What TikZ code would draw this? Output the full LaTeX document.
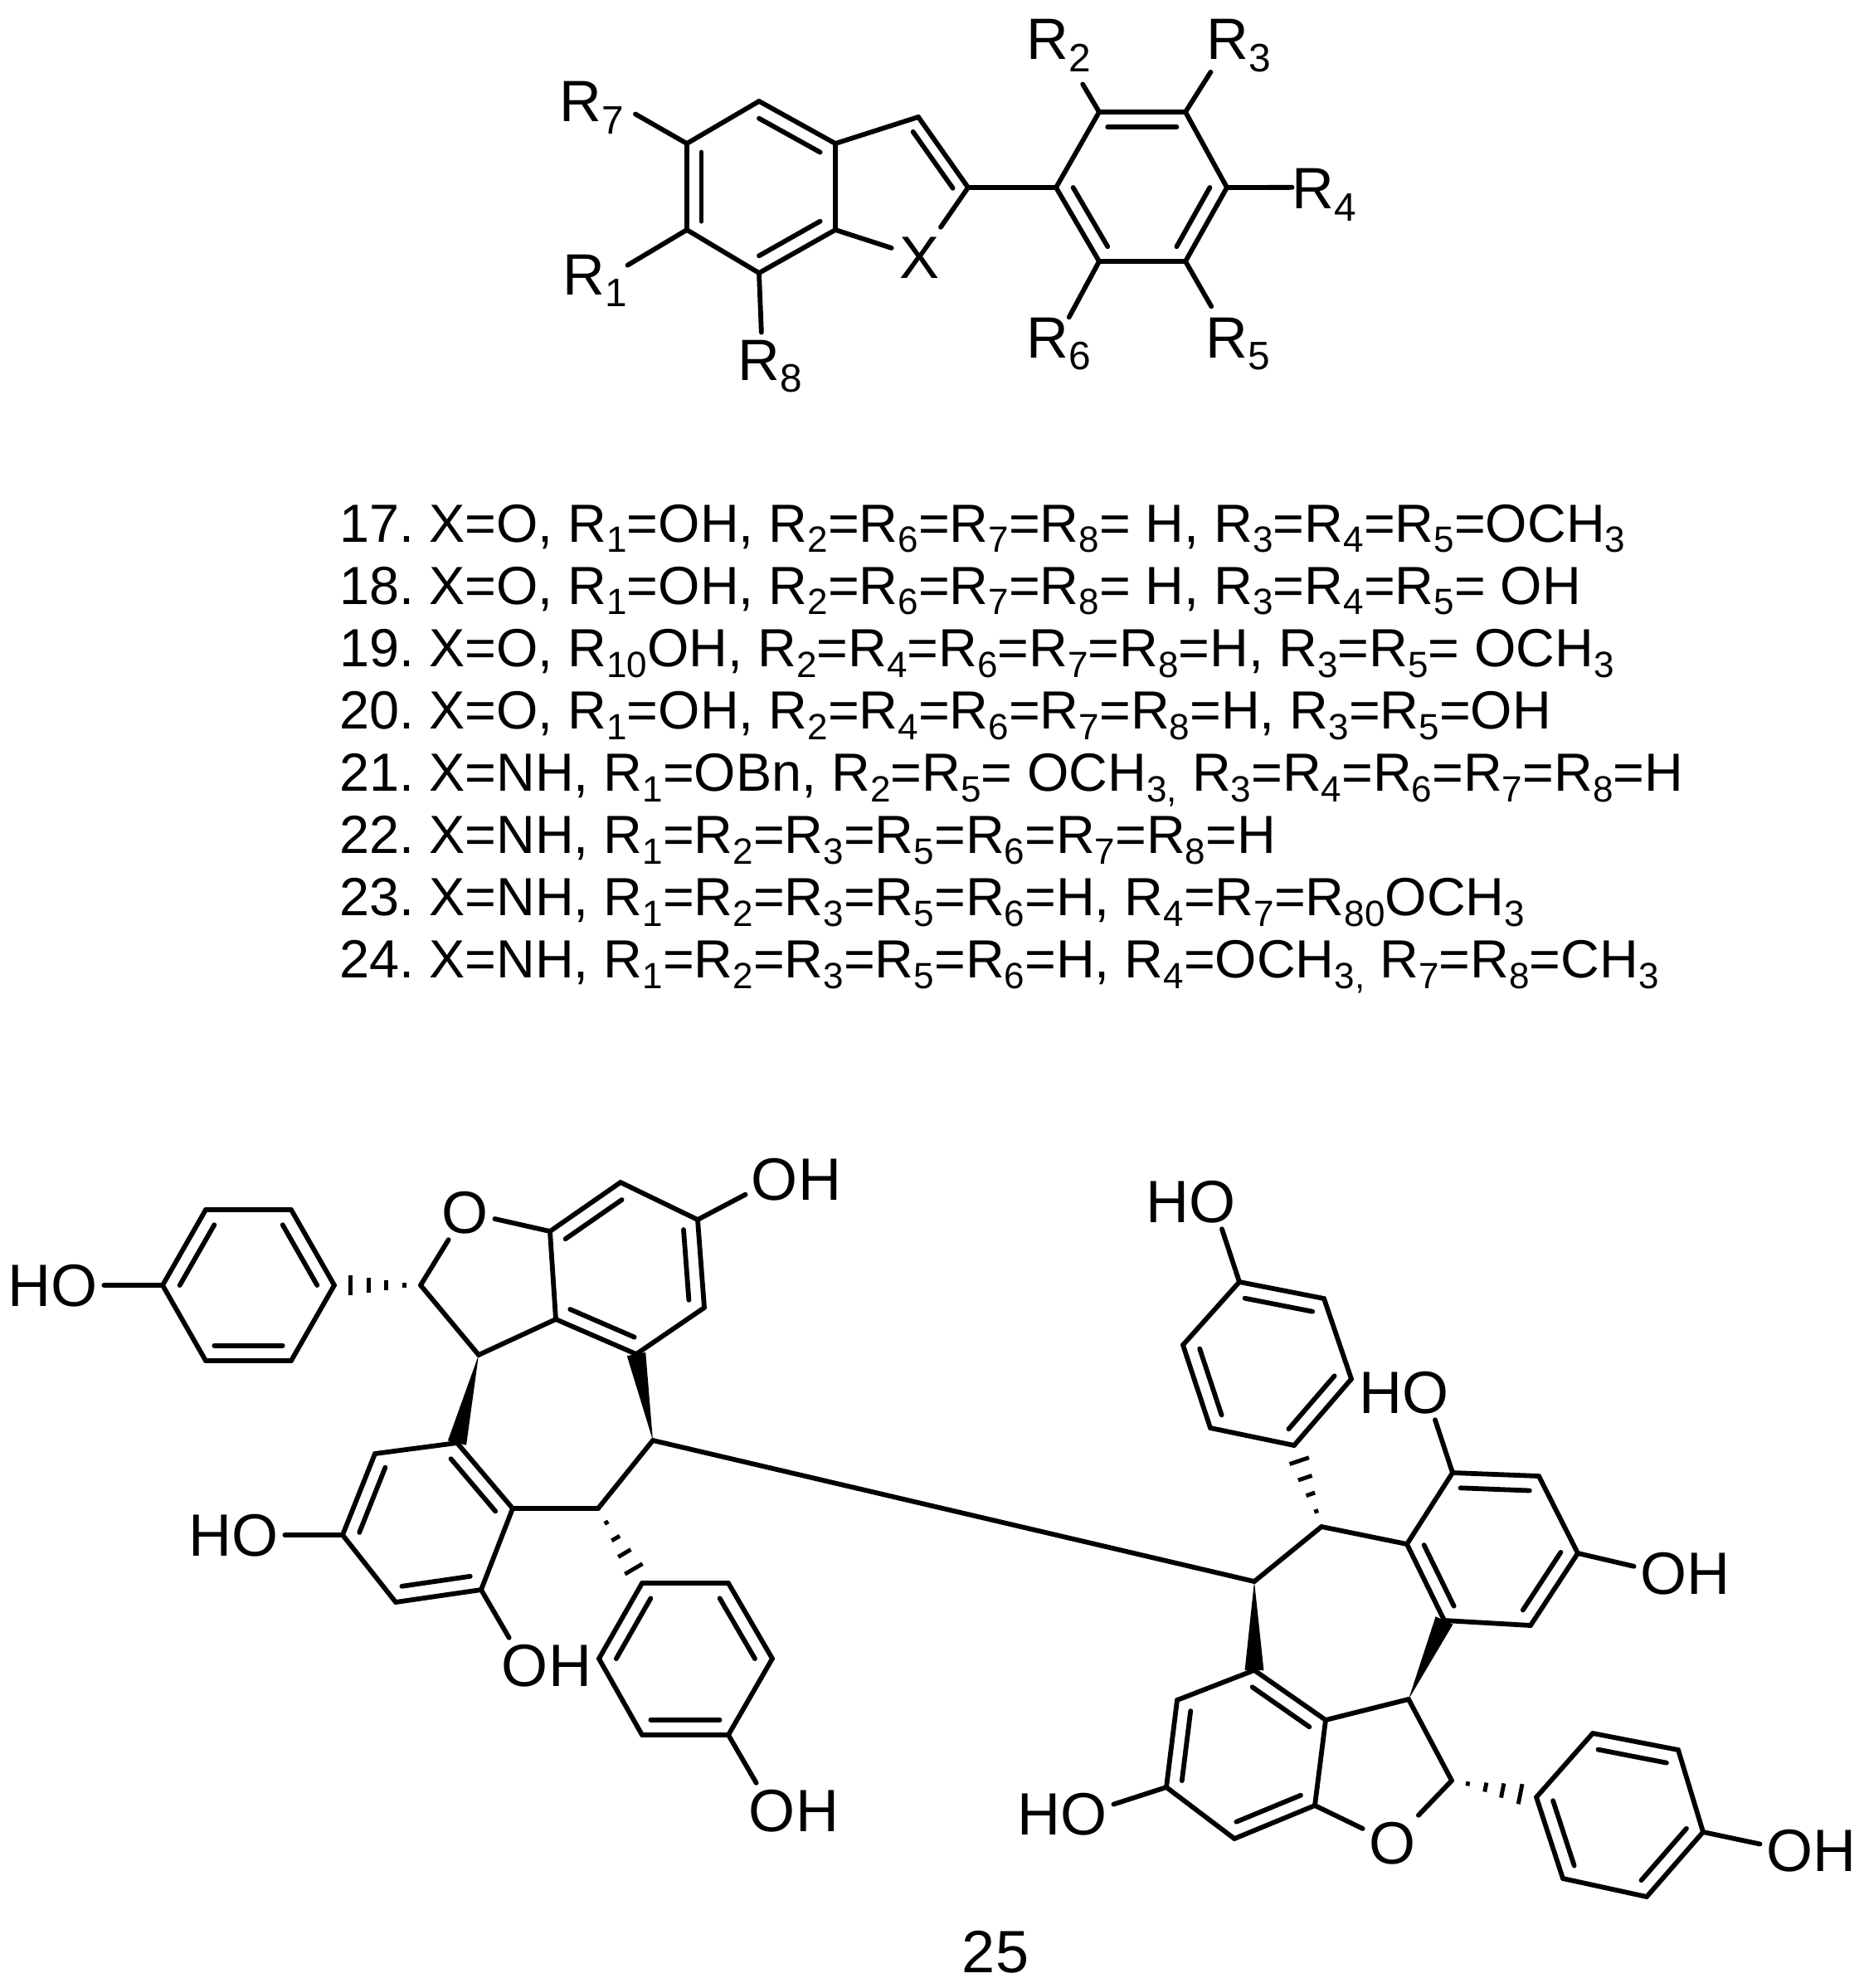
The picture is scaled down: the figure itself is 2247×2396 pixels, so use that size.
\documentclass[tikz,border=0pt]{standalone}
\usepackage{fontspec,graphicx}
\setmainfont{Liberation Sans}
\usetikzlibrary{calc,positioning}

\newcommand{\lowr}[1]{\raisebox{-.2em}{\scalebox{.68}{#1}}}
\newcommand{\dbond}[3]{\draw[bond] (#1) -- (#2); \draw[bond] ($(#1)!.2!(#3)$) -- ($(#2)!.2!(#3)$);}
\newcommand{\wbond}[2]{\fill ($(#1)$) -- ($(#2)!6.5pt!90:(#1)$) -- ($(#2)!6.5pt!-90:(#1)$) -- cycle;}
\newcommand{\hbond}[2]{\foreach \t/\h in {.19/1.5pt,.40/3.2pt,.60/5pt,.81/7pt} \draw[hash] ($(#1)!\t!(#2)!\h!90:(#2)$) -- ($(#1)!\t!(#2)!\h!-90:(#2)$);}

\tikzset{
  bond/.style={line width=3.3pt, line cap=round, line join=round},
  hash/.style={line width=2.8pt},
  atom/.style={font=\fontsize{41}{41}\selectfont, inner sep=4pt, text height=29.4pt, text depth=0pt},
  rgroup/.style={font=\fontsize{40}{40}\selectfont, inner sep=0pt, anchor=base west},
  rowtxt/.style={font=\fontsize{36.85}{37}\selectfont, inner sep=0pt, text height=26.5pt, text depth=11pt},
}

\begin{document}
\frenchspacing
\begin{tikzpicture}[x=.02cm, y=-.02cm]
  \useasboundingbox (0,0) rectangle (2247,2396);

  % upper skeleton
  \foreach \n/\x/\y in {b1/915/122, b2/1007/173, b3/1007/277, b4/915/329, b5/828/277, b6/828/173,
    c3/1107/141, c2/1167/226, ringc/1075/230,
    p1/1273/226, p2/1325/135, p3/1429/135, p4/1479/226, p5/1429/315, p6/1325/315}
    \coordinate (\n) at (\x,\y);
  \coordinate (ringb) at ($(b1)!.5!(b4)$);
  \coordinate (ringp) at ($(p1)!.5!(p4)$);

  \node[atom, inner sep=5.7pt] (xatom) at (1109,310) {X};
  \node[rgroup] (r7) at (674.5,147) {R\lowr{7}};
  \node[rgroup] (r1) at (678.5,355) {R\lowr{1}};
  \node[rgroup] (r8) at (889.5,458) {R\lowr{8}};
  \node[rgroup] (r2) at (1237.5,72) {R\lowr{2}};
  \node[rgroup] (r3) at (1454.5,72) {R\lowr{3}};
  \node[rgroup] (r4) at (1557.5,252) {R\lowr{4}};
  \node[rgroup] (r5) at (1453.5,431) {R\lowr{5}};
  \node[rgroup] (r6) at (1237.5,431) {R\lowr{6}};

  \dbond{b1}{b2}{ringb}
  \draw[bond] (b2) -- (b3);
  \dbond{b3}{b4}{ringb}
  \draw[bond] (b4) -- (b5);
  \dbond{b5}{b6}{ringb}
  \draw[bond] (b6) -- (b1);
  \draw[bond] (b2) -- (c3);
  \dbond{c3}{c2}{ringc}
  \draw[bond] (c2) -- (xatom);
  \draw[bond] (b3) -- (xatom);
  \draw[bond] (c2) -- (p1);
  \draw[bond] (p1) -- (p2);
  \dbond{p2}{p3}{ringp}
  \draw[bond] (p3) -- (p4);
  \dbond{p4}{p5}{ringp}
  \draw[bond] (p5) -- (p6);
  \dbond{p6}{p1}{ringp}
  \draw[bond, shorten >=8.8pt] (b6) -- (r7.east);
  \draw[bond] (b5) -- (r1.25);
  \draw[bond, shorten >=5pt] (b4) -- (r8.108);
  \draw[bond, shorten >=10pt] (p2) -- (r2.-58);
  \draw[bond] (p3) -- (r3.223);
  \draw[bond] (p4) -- (r4.167);
  \draw[bond, shorten >=8.5pt] (p5) -- (r5.128);
  \draw[bond] (p6) -- (r6.69);

  % table of substituents
  \node[rowtxt, anchor=base west] (row17) at (409,653) {17. X=O, R\lowr{1}=OH, R\lowr{2}=R\lowr{6}=R\lowr{7}=R\lowr{8}= H, R\lowr{3}=R\lowr{4}=R\lowr{5}=OCH\lowr{3}};
  \node[rowtxt, below=4.8pt of row17.south west, anchor=north west] (row18) {18. X=O, R\lowr{1}=OH, R\lowr{2}=R\lowr{6}=R\lowr{7}=R\lowr{8}= H, R\lowr{3}=R\lowr{4}=R\lowr{5}= OH};
  \node[rowtxt, below=4.8pt of row18.south west, anchor=north west] (row19) {19. X=O, R\lowr{10}OH, R\lowr{2}=R\lowr{4}=R\lowr{6}=R\lowr{7}=R\lowr{8}=H, R\lowr{3}=R\lowr{5}= OCH\lowr{3}};
  \node[rowtxt, below=4.8pt of row19.south west, anchor=north west] (row20) {20. X=O, R\lowr{1}=OH, R\lowr{2}=R\lowr{4}=R\lowr{6}=R\lowr{7}=R\lowr{8}=H, R\lowr{3}=R\lowr{5}=OH};
  \node[rowtxt, below=4.8pt of row20.south west, anchor=north west] (row21) {21. X=NH, R\lowr{1}=OBn, R\lowr{2}=R\lowr{5}= OCH\lowr{3,} R\lowr{3}=R\lowr{4}=R\lowr{6}=R\lowr{7}=R\lowr{8}=H};
  \node[rowtxt, below=4.8pt of row21.south west, anchor=north west] (row22) {22. X=NH, R\lowr{1}=R\lowr{2}=R\lowr{3}=R\lowr{5}=R\lowr{6}=R\lowr{7}=R\lowr{8}=H};
  \node[rowtxt, below=4.8pt of row22.south west, anchor=north west] (row23) {23. X=NH, R\lowr{1}=R\lowr{2}=R\lowr{3}=R\lowr{5}=R\lowr{6}=H, R\lowr{4}=R\lowr{7}=R\lowr{80}OCH\lowr{3}};
  \node[rowtxt, below=4.8pt of row23.south west, anchor=north west] (row24) {24. X=NH, R\lowr{1}=R\lowr{2}=R\lowr{3}=R\lowr{5}=R\lowr{6}=H, R\lowr{4}=OCH\lowr{3,} R\lowr{7}=R\lowr{8}=CH\lowr{3}};

  % left half of the dimer
  \foreach \n/\x/\y in {a1/196/1549, a2/248/1458, a3/351/1458, a4/403/1549, a5/351/1640, a6/248/1640,
    f2/507/1549, f3/577/1633,
    d1/663/1484, d2/748/1425, d3/841/1470, d4/849/1576, d5/767/1632, d6/670/1590,
    e1/551/1739, e2/452/1752, e3/413/1850, e4/477/1931, e5/580/1916, e6/618/1818,
    f5/721/1818, f4/787/1736,
    h1/774/1908, h2/878/1908, h3/931/1999, h4/878/2091, h5/774/2091, h6/722/1999}
    \coordinate (\n) at (\x,\y);
  \coordinate (ringa) at ($(a1)!.5!(a4)$);
  \coordinate (ringd) at ($(d1)!.5!(d4)$);
  \coordinate (ringe) at ($(e1)!.5!(e4)$);
  \coordinate (ringh) at ($(h1)!.5!(h4)$);

  \node[atom] (ho1) at (90,1549) {\llap{H}O};
  \node[atom] (oxa) at (561,1461) {O};
  \node[atom] (oh2) at (934,1421) {O\rlap{H}};
  \node[atom] (ho3) at (308,1850) {\llap{H}O};
  \node[atom] (oh4) at (633,2007) {O\rlap{H}};
  \node[atom] (oh5) at (931,2182) {O\rlap{H}};

  \draw[bond] (ho1) -- (a1);
  \dbond{a1}{a2}{ringa}
  \draw[bond] (a2) -- (a3);
  \dbond{a3}{a4}{ringa}
  \draw[bond] (a4) -- (a5);
  \dbond{a5}{a6}{ringa}
  \draw[bond] (a6) -- (a1);
  \hbond{f2}{a4}
  \draw[bond] (f2) -- (oxa);
  \draw[bond] (oxa) -- (d1);
  \draw[bond] (f2) -- (f3);
  \draw[bond] (f3) -- (d6);
  \draw[bond] (d1) -- (d6);
  \dbond{d1}{d2}{ringd}
  \draw[bond] (d2) -- (d3);
  \dbond{d3}{d4}{ringd}
  \draw[bond] (d4) -- (d5);
  \dbond{d5}{d6}{ringd}
  \draw[bond] (d3) -- (oh2);
  \wbond{f3}{e1}
  \wbond{f4}{d5}
  \dbond{e1}{e6}{ringe}
  \draw[bond] (e1) -- (e2);
  \dbond{e2}{e3}{ringe}
  \draw[bond] (e3) -- (e4);
  \dbond{e4}{e5}{ringe}
  \draw[bond] (e5) -- (e6);
  \draw[bond] (e3) -- (ho3);
  \draw[bond] (e5) -- (oh4);
  \draw[bond] (e6) -- (f5);
  \draw[bond] (f5) -- (f4);
  \hbond{f5}{h1}
  \dbond{h1}{h6}{ringh}
  \draw[bond] (h1) -- (h2);
  \dbond{h2}{h3}{ringh}
  \draw[bond] (h3) -- (h4);
  \dbond{h4}{h5}{ringh}
  \draw[bond] (h5) -- (h6);
  \draw[bond] (h4) -- (oh5);

  % right half of the dimer
  \foreach \n/\x/\y in {i1/1494/1545, i2/1596/1565, i3/1629/1662, i4/1560/1742, i5/1459/1721, i6/1426/1621,
    g1/1512/1906, g2/1593/1840,
    j1/1696/1861, j2/1751/1775, j3/1855/1779, j4/1902/1872, j5/1845/1959, j6/1741/1953,
    k1/1512/2013, k2/1419/2049, k3/1406/2154, k4/1488/2216, k5/1585/2176, k6/1598/2073,
    m1/1698/2048, m2/1750/2146,
    n1/1852/2166, n2/1920/2089, n3/2023/2109, n4/2053/2208, n5/1985/2286, n6/1884/2264}
    \coordinate (\n) at (\x,\y);
  \coordinate (ringi) at ($(i1)!.5!(i4)$);
  \coordinate (ringj) at ($(j1)!.5!(j4)$);
  \coordinate (ringk) at ($(k1)!.5!(k4)$);
  \coordinate (ringn) at ($(n1)!.5!(n4)$);

  \node[atom] (ho6) at (1462,1448) {\llap{H}O};
  \node[atom] (ho7) at (1719,1678) {\llap{H}O};
  \node[atom] (oh8) at (2005,1896) {O\rlap{H}};
  \node[atom] (ho9) at (1307,2186) {\llap{H}O};
  \node[atom] (oxb) at (1678,2221) {O};
  \node[atom] (oh10) at (2157,2230) {O\rlap{H}};
  \node[atom] (dimer) at (1200,2352) {25};

  \draw[bond] (f4) -- (g1);
  \draw[bond] (ho6) -- (i1);
  \dbond{i1}{i2}{ringi}
  \draw[bond] (i2) -- (i3);
  \dbond{i3}{i4}{ringi}
  \draw[bond] (i4) -- (i5);
  \dbond{i5}{i6}{ringi}
  \draw[bond] (i6) -- (i1);
  \hbond{g2}{i4}
  \draw[bond] (g1) -- (g2);
  \draw[bond] (g2) -- (j1);
  \dbond{j1}{j6}{ringj}
  \draw[bond] (j1) -- (j2);
  \dbond{j2}{j3}{ringj}
  \draw[bond] (j3) -- (j4);
  \dbond{j4}{j5}{ringj}
  \draw[bond] (j5) -- (j6);
  \draw[bond] (j2) -- (ho7);
  \draw[bond] (j4) -- (oh8);
  \wbond{g1}{k1}
  \wbond{m1}{j6}
  \dbond{k1}{k6}{ringk}
  \draw[bond] (k1) -- (k2);
  \dbond{k2}{k3}{ringk}
  \draw[bond] (k3) -- (k4);
  \dbond{k4}{k5}{ringk}
  \draw[bond] (k5) -- (k6);
  \draw[bond] (k3) -- (ho9);
  \draw[bond] (k6) -- (m1);
  \draw[bond] (m1) -- (m2);
  \draw[bond] (m2) -- (oxb);
  \draw[bond] (oxb) -- (k5);
  \hbond{m2}{n1}
  \dbond{n1}{n6}{ringn}
  \draw[bond] (n1) -- (n2);
  \dbond{n2}{n3}{ringn}
  \draw[bond] (n3) -- (n4);
  \dbond{n4}{n5}{ringn}
  \draw[bond] (n5) -- (n6);
  \draw[bond] (n4) -- (oh10);
\end{tikzpicture}
\end{document}
